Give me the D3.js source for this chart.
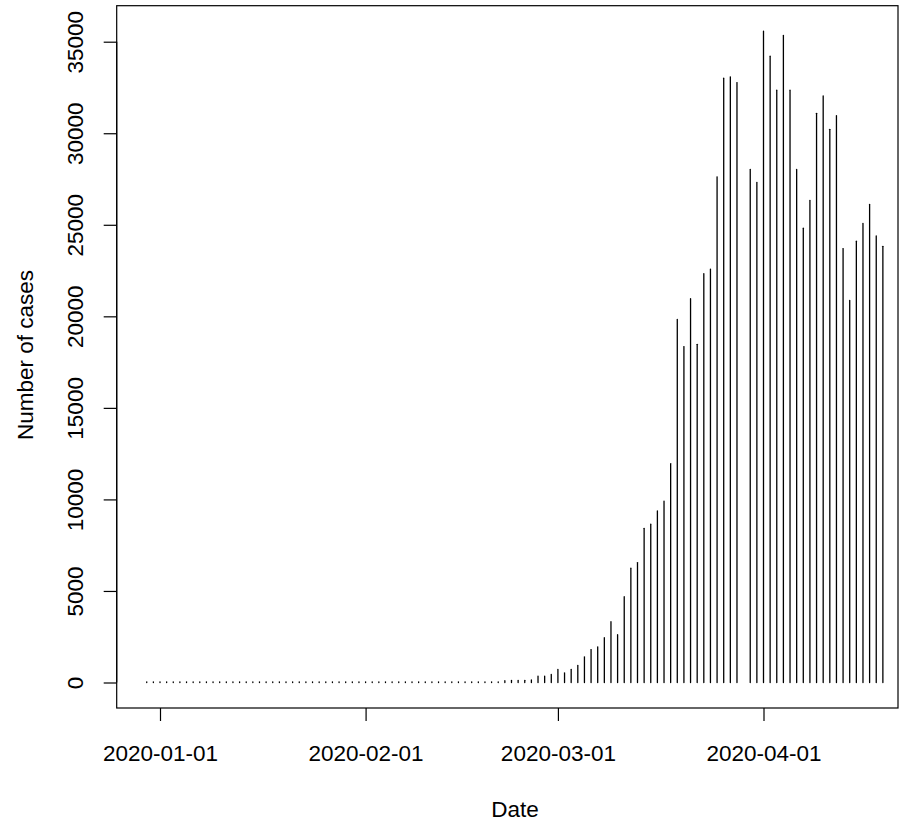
<!DOCTYPE html>
<html>
<head>
<meta charset="utf-8">
<script src="https://cdn.jsdelivr.net/npm/d3@7"></script>
<style>
  html, body { margin: 0; padding: 0; background: #fff; }
  svg { display: block; }
  text { font-family: "Liberation Sans", Arial, sans-serif; fill: #000; }
</style>
</head>
<body>
<svg id="chart" width="902" height="821"></svg>
<script>
// ---- Data (daily new cases) ----
// Each month: first day shown and the daily values from that day on (null = no record)
const decStart = "2019-12-30";
const casesDec = [0, 0];
const janStart = "2020-01-01";
const casesJan = [0,0,0,0,0,0,0,0,0,0, 0,0,0,0,0,0,0,0,0,0, 0,0,0,0,3,0,1,0,2,1, 0];
const febStart = "2020-02-01";
const casesFeb = [1,0,0,0,0,0,1,2,0,0, 0,1,0,1,0,0,0,0,0,2, 15,100,110,110,120,140,350,350,440];
const marStart = "2020-03-01";
const casesMar = [710,530,710,930,1400,1800,1950,2450,3320,2610,
                  4690,6240,6550,8420,8650,9370,9910,11960,19830,18350,
                  20960,18470,22330,22580,27620,33010,33080,32770,null,28025,
                  27310];
const aprStart = "2020-04-01";
const casesApr = [35580,34210,32350,35340,32350,28025,24810,26330,31090,32040,
                  30215,30960,23700,20870,24100,25070,26110,24390,23825];

const xTickLabels = ["2020-01-01", "2020-02-01", "2020-03-01", "2020-04-01"];
const yTickValues = [0, 5000, 10000, 15000, 20000, 25000, 30000, 35000];
const xTitle = "Date";
const yTitle = "Number of cases";

// ---- Build rows ----
const parse = d3.utcParse("%Y-%m-%d");
const months = [[decStart, casesDec], [janStart, casesJan], [febStart, casesFeb],
                [marStart, casesMar], [aprStart, casesApr]];
const rows = [];
months.forEach(([start, vals]) => {
  const s = parse(start);
  vals.forEach((v, i) => {
    if (v !== null) rows.push({ date: d3.utcDay.offset(s, i), value: v });
  });
});

// ---- Layout ----
const box = { left: 116.7, right: 898, top: 5.7, bottom: 708 };
const svg = d3.select("#chart");

const x = d3.scaleUtc()
  .domain([parse("2020-01-01"), parse("2020-04-01")])
  .range([160, 763.5]);
const y = d3.scaleLinear()
  .domain([0, 35000])
  .range([682.5, 41.7]);

// ---- Spikes (type = "h") ----
svg.append("g")
  .selectAll("line")
  .data(rows)
  .join("line")
  .attr("x1", d => x(d.date))
  .attr("x2", d => x(d.date))
  .attr("y1", y(0))
  .attr("y2", d => Math.min(y(d.value), y(0) - 0.7))
  .attr("stroke", "#000")
  .attr("stroke-width", 1.3)
  .attr("stroke-linecap", "round");

// ---- Box ----
svg.append("rect")
  .attr("x", box.left).attr("y", box.top)
  .attr("width", box.right - box.left).attr("height", box.bottom - box.top)
  .attr("fill", "none").attr("stroke", "#000").attr("stroke-width", 1.2);

// ---- X axis ----
const xAxis = d3.axisBottom(x)
  .tickValues(xTickLabels.map(parse))
  .tickFormat(d3.utcFormat("%Y-%m-%d"))
  .tickSize(13)
  .tickPadding(0);
const gx = svg.append("g")
  .attr("transform", `translate(0,${box.bottom})`)
  .call(xAxis);
gx.select(".domain").remove();
gx.selectAll(".tick line").attr("stroke", "#000").attr("stroke-width", 1.2);
gx.selectAll(".tick text")
  .attr("y", 52.7).attr("dy", null)
  .attr("font-size", 22.5)
  .attr("font-family", "Liberation Sans, Arial, sans-serif")
  .attr("fill", "#000");

// ---- Y axis ----
const yAxis = d3.axisLeft(y)
  .tickValues(yTickValues)
  .tickFormat(d3.format("d"))
  .tickSize(13);
const gy = svg.append("g")
  .attr("transform", `translate(${box.left},0)`)
  .call(yAxis);
gy.select(".domain").remove();
gy.append("line")
  .attr("x1", 0).attr("x2", 0)
  .attr("y1", y(0)).attr("y2", y(35000))
  .attr("stroke", "#000").attr("stroke-width", 1.2);
gy.selectAll(".tick line").attr("stroke", "#000").attr("stroke-width", 1.2);
gy.selectAll(".tick text")
  .attr("x", null).attr("dy", null)
  .attr("transform", "translate(-33.5,0) rotate(-90)")
  .attr("text-anchor", "middle")
  .attr("font-size", 22.5)
  .attr("font-family", "Liberation Sans, Arial, sans-serif")
  .attr("fill", "#000");

// ---- Titles ----
svg.append("text")
  .attr("x", 515).attr("y", 816.5)
  .attr("text-anchor", "middle")
  .attr("font-size", 22.5)
  .text(xTitle);
svg.append("text")
  .attr("transform", "translate(33.3,355) rotate(-90)")
  .attr("text-anchor", "middle")
  .attr("font-size", 22.5)
  .text(yTitle);
</script>
</body>
</html>
